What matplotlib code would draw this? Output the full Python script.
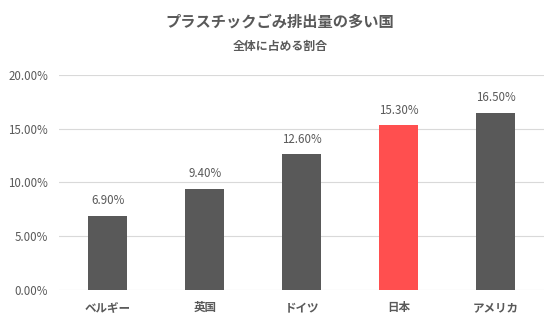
import matplotlib.pyplot as plt
import numpy as np

plt.rcParams['font.family'] = ['Noto Sans CJK JP', 'DejaVu Sans']

countries = ['ベルギー', '英国', 'ドイツ', '日本', 'アメリカ']
shares = [6.90, 9.40, 12.60, 15.30, 16.50]
colors = ['#595959', '#595959', '#595959', '#FF4F4F', '#595959']

fig = plt.figure(figsize=(5.6, 3.27), dpi=100)
ax = fig.add_axes([0.106, 0.113, 0.866, 0.658])

x = np.arange(len(countries))
ax.bar(x, shares, width=0.4, color=colors, zorder=2)

for xi, v in zip(x, shares):
    ax.text(xi, v + 0.8, f'{v:.2f}%', ha='center', va='bottom',
            fontsize=8.3, color='#595959')

ax.set_ylim(0, 20)
ax.set_xlim(-0.5, len(countries) - 0.5)
ax.set_yticks(np.arange(0, 20.1, 5))
ax.set_yticklabels([f'{t:.2f}%' for t in np.arange(0, 20.1, 5)])
ax.set_xticks(x)
ax.set_xticklabels(countries, fontweight='bold')
ax.grid(axis='y', color='#d9d9d9', linewidth=0.8, zorder=0)
ax.tick_params(axis='both', length=0, labelsize=8.3, colors='#595959', pad=8)
ax.tick_params(axis='x', pad=8)
for s in ax.spines.values():
    s.set_visible(False)

fig.text(0.5, 0.935, 'プラスチックごみ排出量の多い国', ha='center', va='center',
         fontsize=11, fontweight='bold', color='#595959')
fig.text(0.5, 0.858, '全体に占める割合', ha='center', va='center',
         fontsize=8.6, fontweight='bold', color='#595959')

fig.savefig('out.png', dpi=100)
